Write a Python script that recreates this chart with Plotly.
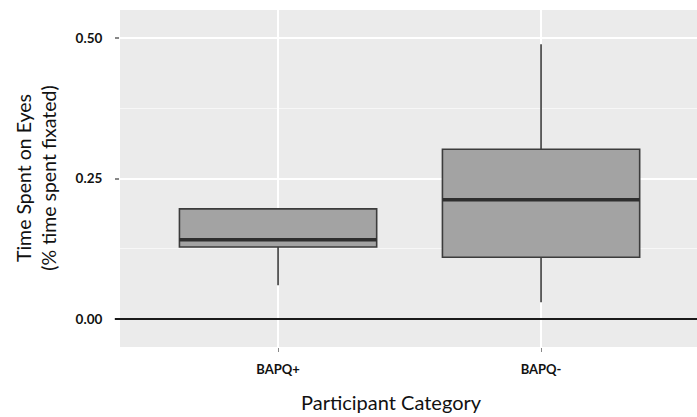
import plotly.graph_objects as go

categories = ["BAPQ+", "BAPQ-"]
positions = [1, 2]
lower_whisker = [0.060, 0.030]
q1 = [0.128, 0.110]
median = [0.141, 0.212]
q3 = [0.196, 0.302]
upper_whisker = [0.196, 0.489]

box_width = 0.75
fig = go.Figure()
fig.add_trace(go.Box(
    x=positions, q1=q1, median=median, q3=q3,
    lowerfence=lower_whisker, upperfence=upper_whisker,
    width=box_width, fillcolor="#a3a3a3",
    line=dict(color="#3c3c3c", width=1.6),
    whiskerwidth=0, boxpoints=False, showlegend=False, hoverinfo="skip",
))
for p, m in zip(positions, median):
    fig.add_trace(go.Scatter(
        x=[p - box_width / 2, p + box_width / 2], y=[m, m], mode="lines",
        line=dict(color="#2e2e2e", width=3.5), showlegend=False, hoverinfo="skip",
    ))

fig.add_shape(type="line", xref="paper", yref="y", x0=-0.009, x1=1, y0=0, y1=0,
              line=dict(color="#1a1a1a", width=2))

font_family = "Lato, Open Sans, sans-serif"
fig.add_annotation(text="Participant Category", xref="paper", yref="paper",
                   x=0.471, y=-0.163, showarrow=False, xanchor="center", yanchor="middle",
                   font=dict(size=20, family=font_family, color="#111"))
fig.add_annotation(text="Time Spent on Eyes<br>(% time spent fixated)", xref="paper", yref="paper",
                   x=-0.147, y=0.5, showarrow=False, xanchor="center", yanchor="middle",
                   textangle=-90, font=dict(size=19.5, family=font_family, color="#111"))

fig.update_layout(
    width=697, height=417,
    margin=dict(l=120, r=0, t=10, b=70),
    paper_bgcolor="white", plot_bgcolor="#ebebeb",
    font=dict(family=font_family, color="#111"),
    xaxis=dict(
        range=[0.399, 2.593], tickvals=positions, ticktext=categories,
        showgrid=True, gridcolor="white", gridwidth=1.5,
        ticks="outside", ticklen=4, tickcolor="#888", tickwidth=1,
        ticklabelstandoff=6,
        tickfont=dict(size=13, family=font_family, color="#111", weight="bold"),
        zeroline=False, showline=False,
    ),
    yaxis=dict(
        range=[-0.0498, 0.5498], tickvals=[0, 0.25, 0.5], ticktext=["0.00", "0.25", "0.50"],
        showgrid=True, gridcolor="white", gridwidth=1.5,
        minor=dict(tickvals=[0.125, 0.375], showgrid=True, gridcolor="#f7f7f7", gridwidth=0.8, ticks=""),
        ticks="outside", ticklen=4, tickcolor="#888", tickwidth=1.5,
        ticklabelstandoff=10,
        tickfont=dict(size=13.5, family=font_family, color="#111", weight="bold"),
        zeroline=False, showline=False,
    ),
)
fig.write_html("out.html")
